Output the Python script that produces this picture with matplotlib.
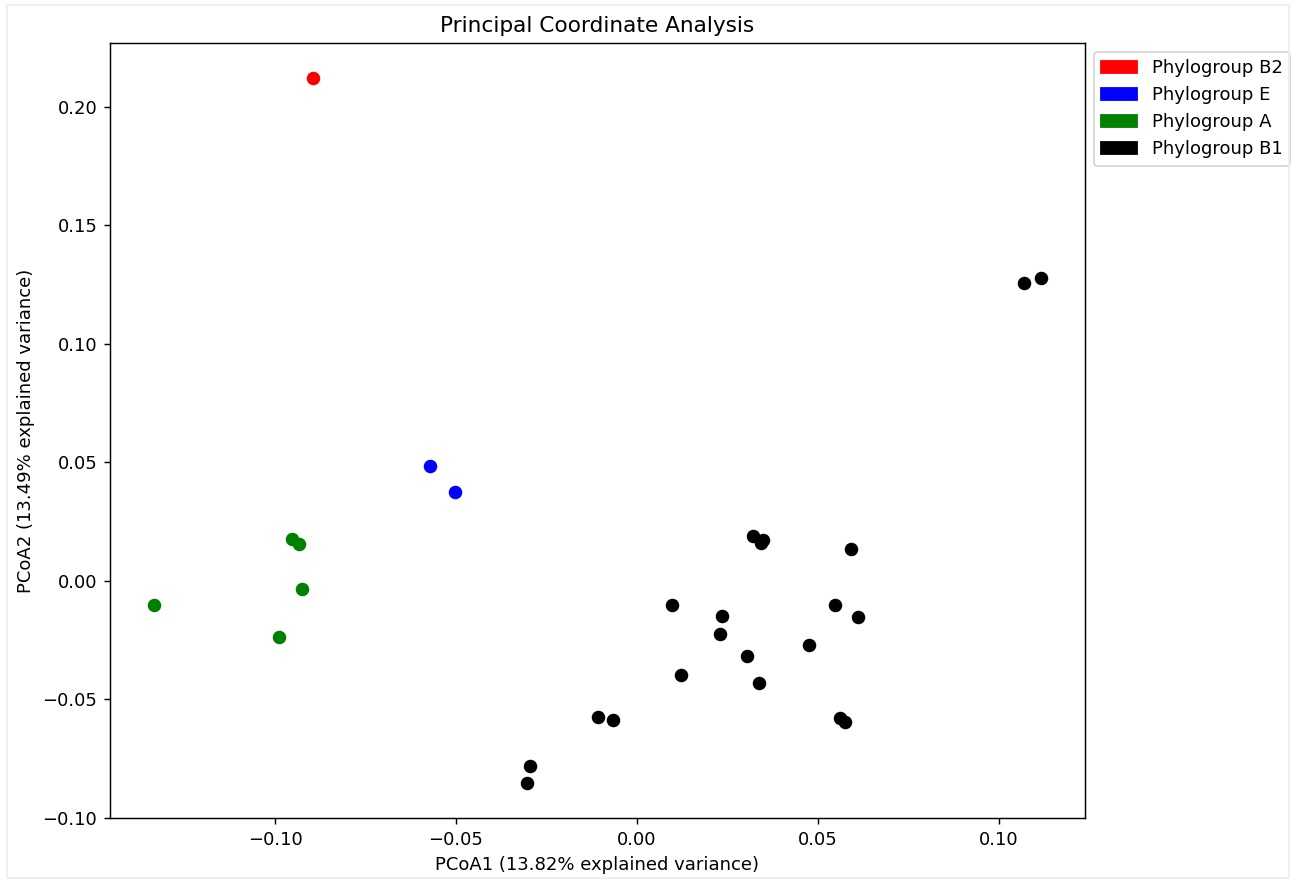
import matplotlib
matplotlib.use("Agg")
import matplotlib.pyplot as plt
import matplotlib.patches as mpatches

# PCoA coordinates per phylogroup
b2_x = [-0.0895]
b2_y = [0.2121]

e_x = [-0.0572, -0.0503]
e_y = [0.0486, 0.0376]

a_x = [-0.1334, -0.0952, -0.0934, -0.0927, -0.0988]
a_y = [-0.0104, 0.0176, 0.0156, -0.0033, -0.0237]

b1_x = [0.1070, 0.1115, 0.0320, 0.0347, 0.0342, 0.0591, 0.0098, 0.0235,
        0.0228, 0.0548, 0.0612, 0.0475, 0.0304, 0.0122, 0.0336, 0.0560,
        0.0575, -0.0108, -0.0066, -0.0296, -0.0304]
b1_y = [0.1255, 0.1277, 0.0189, 0.0172, 0.0158, 0.0134, -0.0104, -0.0148,
        -0.0225, -0.0104, -0.0155, -0.0272, -0.0317, -0.0397, -0.0431, -0.0580,
        -0.0597, -0.0575, -0.0587, -0.0782, -0.0853]

groups = ["Phylogroup B2", "Phylogroup E", "Phylogroup A", "Phylogroup B1"]
colors = ["red", "blue", "green", "black"]

fig = plt.figure(figsize=(1293 / 130, 880 / 130), dpi=130)
ax = fig.add_axes([0.085, 0.0705, 0.754, 0.8805])

for xs, ys, c in zip([b2_x, e_x, a_x, b1_x], [b2_y, e_y, a_y, b1_y], colors):
    ax.scatter(xs, ys, c=c, s=42)

ax.set_title("Principal Coordinate Analysis")
ax.set_xlabel("PCoA1 (13.82% explained variance)")
ax.set_ylabel("PCoA2 (13.49% explained variance)")

handles = [mpatches.Patch(color=c, label=g) for g, c in zip(groups, colors)]
ax.legend(handles=handles, loc="upper left", bbox_to_anchor=(1.0, 1.0))

# faint frame around the figure
fig.patches.append(mpatches.Rectangle((7 / 1293, 0.002), 0.997 - 7 / 1293, 0.992,
                                      transform=fig.transFigure, fill=False,
                                      edgecolor="#eeeeee", linewidth=1))

fig.savefig("out.png", dpi=130)
